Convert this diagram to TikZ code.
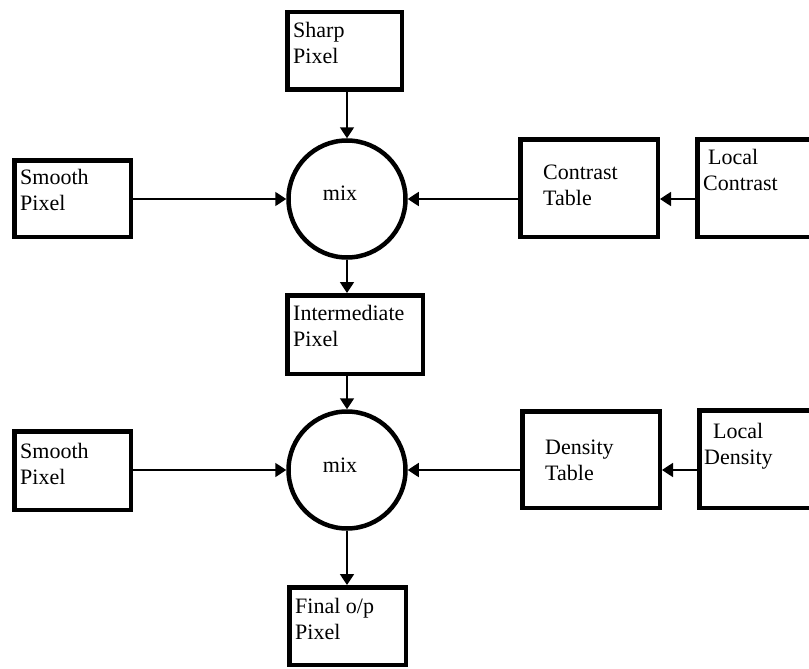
\documentclass[tikz,border=0pt]{standalone}
\usepackage{fontspec}
\setmainfont{Liberation Serif}
\usetikzlibrary{arrows.meta}

\begin{document}
\begin{tikzpicture}[x=1pt, y=-1pt,
    box/.style={draw, line width=4.5pt, inner sep=0pt},
    mixer/.style={draw, circle, line width=4.5pt, minimum size=117pt, inner sep=0pt},
    txt/.style={anchor=north west, align=left, inner sep=0pt, font=\fontsize{22}{26}\selectfont},
    mixtxt/.style={anchor=base, inner sep=0pt, font=\fontsize{22}{26}\selectfont},
    arrow/.style={line width=1.8pt, -{Triangle[length=11pt, width=14pt]}}]
    \useasboundingbox (0,0) rectangle (809,669);

    % Primo stadio
    \node[box, minimum width=114.5pt, minimum height=77.5pt] (sharp) at (344.5,51) {};
    \node[box, minimum width=116.5pt, minimum height=76.5pt] (smoothA) at (72.5,198.5) {};
    \node[box, minimum width=137.5pt, minimum height=97.5pt] (ctable) at (589,188) {};
    \node[box, minimum width=135.5pt, minimum height=97.5pt] (lcontrast) at (765,188) {};
    \node[mixer] (mixA) at (347,199) {};

    % Secondo stadio
    \node[box, minimum width=135.5pt, minimum height=78.5pt] (inter) at (355,334.5) {};
    \node[box, minimum width=116.5pt, minimum height=78.5pt] (smoothB) at (72.5,470.5) {};
    \node[box, minimum width=137.5pt, minimum height=96.5pt] (dtable) at (591,459.5) {};
    \node[box, minimum width=133.5pt, minimum height=97.5pt] (ldensity) at (766,459) {};
    \node[mixer] (mixB) at (347,470) {};
    \node[box, minimum width=116.5pt, minimum height=77.5pt] (final) at (347.5,626) {};

    % Testi
    \node[txt] (sharpT) at (293,22) {Sharp\\Pixel};
    \node[txt] (smoothAT) at (20,169) {Smooth\\Pixel};
    \node[txt] (ctableT) at (543,165) {Contrast\\Table};
    \node[txt] (lcontrastT) at (703,149) {\hspace*{5pt}Local\\Contrast};
    \node[mixtxt] (mixAT) at (340,200) {mix};
    \node[txt] (interT) at (293,305) {Intermediate\\Pixel};
    \node[txt] (smoothBT) at (20,443) {Smooth\\Pixel};
    \node[txt] (dtableT) at (545,440) {Density\\Table};
    \node[txt] (ldensityT) at (704,423) {\hspace*{9pt}Local\\Density};
    \node[mixtxt] (mixBT) at (340,472) {mix};
    \node[txt] (finalT) at (295,598) {Final o/p\\Pixel};

    % Frecce
    \draw[arrow] (sharp.south -| mixA) -- (mixA.north);
    \draw[arrow] (smoothA.east |- mixA) -- (mixA.west);
    \draw[arrow] (ctable.west |- mixA) -- (mixA.east);
    \draw[arrow] (lcontrast.west |- mixA) -- (ctable.east |- mixA);
    \draw[arrow] (mixA.south) -- (inter.north -| mixA);
    \draw[arrow] (inter.south -| mixB) -- (mixB.north);
    \draw[arrow] (smoothB.east |- mixB) -- (mixB.west);
    \draw[arrow] (dtable.west |- mixB) -- (mixB.east);
    \draw[arrow] (ldensity.west |- mixB) -- (dtable.east |- mixB);
    \draw[arrow] (mixB.south) -- (final.north -| mixB);

\end{tikzpicture}
\end{document}
